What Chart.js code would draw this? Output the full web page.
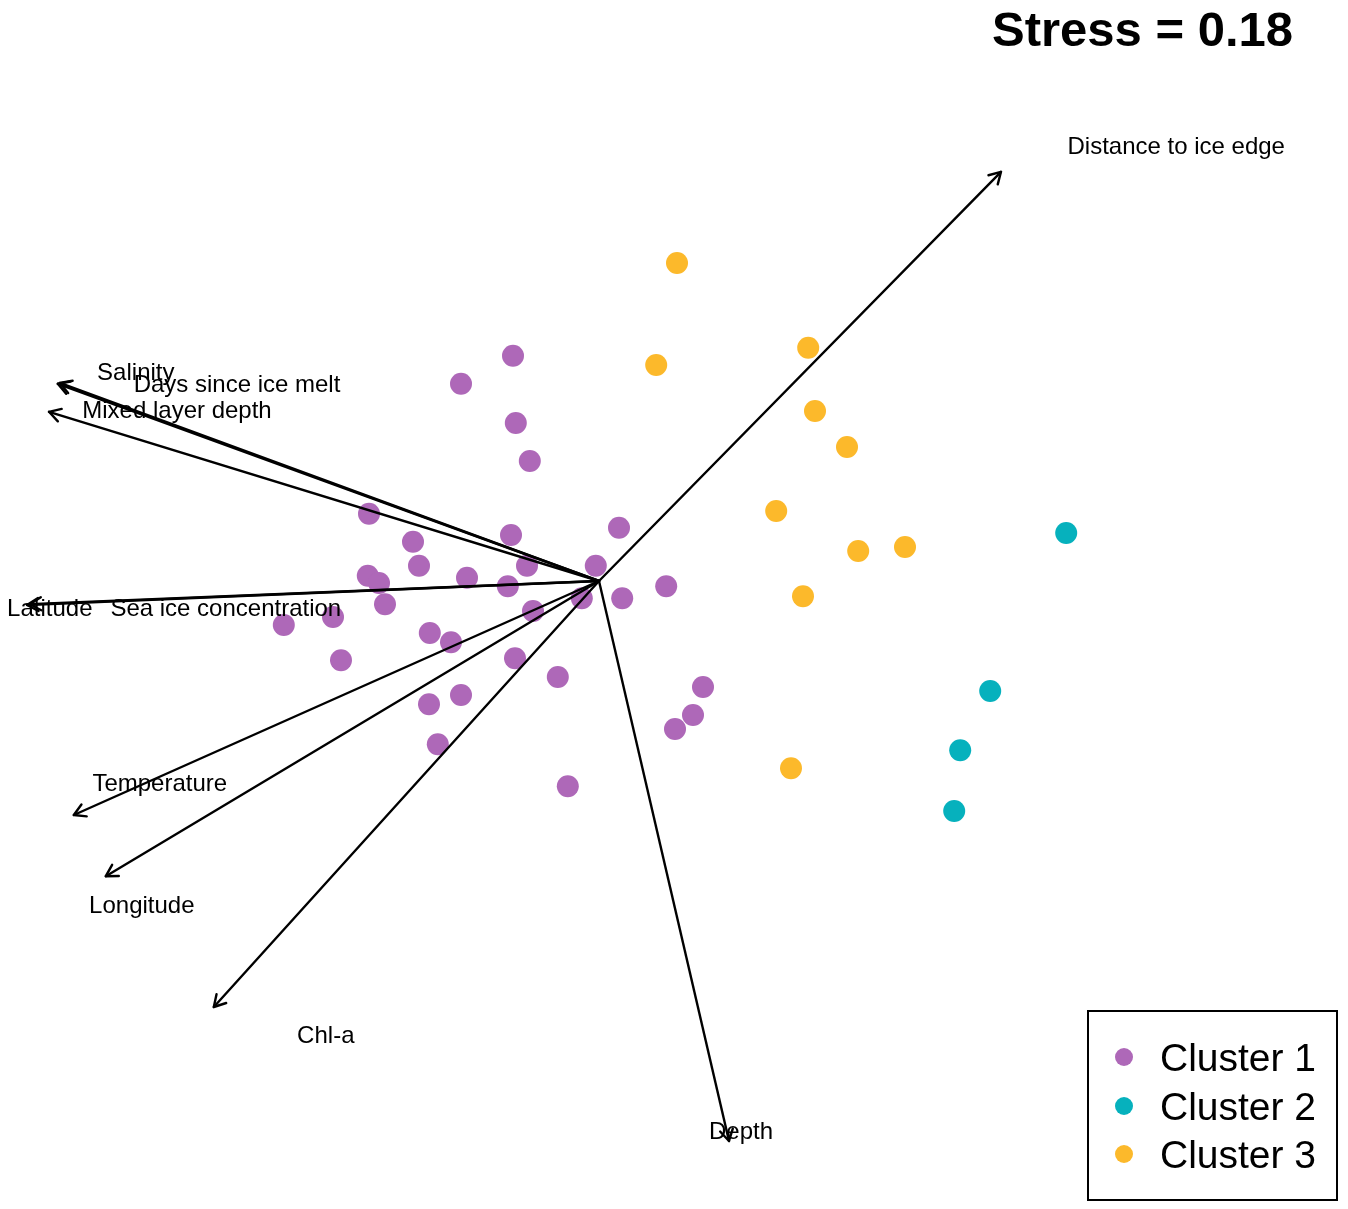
<!DOCTYPE html>
<html><head><meta charset="utf-8">
<script src="https://cdn.jsdelivr.net/npm/chart.js@4.4.1/dist/chart.umd.min.js"></script>
<style>html,body{margin:0;padding:0;background:#fff}#wrap{width:1348px;height:1209px;position:relative}</style>
</head><body><div id="wrap"><canvas id="c"></canvas></div>
<script>
// NMDS site scores
const cluster1X = [-0.215,-0.345,-0.208,-0.173,-0.575,-0.465,-0.220,0.050,-0.450,-0.330,-0.180,-0.008,-0.578,-0.550,-0.535,-0.228,-0.043,0.058,0.168,-0.165,-0.665,-0.788,-0.423,-0.370,-0.645,-0.210,-0.103,-0.345,-0.425,0.260,0.235,0.190,-0.403,-0.078];
const cluster1Y = [0.563,0.493,0.395,0.300,0.168,0.098,0.115,0.133,0.038,0.008,0.038,0.038,0.013,-0.005,-0.058,-0.013,-0.043,-0.043,-0.013,-0.075,-0.090,-0.110,-0.130,-0.153,-0.198,-0.193,-0.240,-0.285,-0.308,-0.265,-0.335,-0.370,-0.408,-0.513];
const cluster2X = [1.168,0.978,0.903,0.888];
const cluster2Y = [0.120,-0.275,-0.423,-0.575];
const cluster3X = [0.195,0.143,0.523,0.540,0.620,0.443,0.648,0.765,0.510,0.480];
const cluster3Y = [0.795,0.540,0.583,0.425,0.335,0.175,0.075,0.085,-0.038,-0.468];
// Environmental vectors (envfit arrows)
const vectorNames = ["Distance to ice edge","Salinity","Days since ice melt","Mixed layer depth","Latitude","Sea ice concentration","Temperature","Longitude","Chl-a","Depth"];
const vectorX = [1.005,-1.348,-1.353,-1.375,-1.430,-1.423,-1.313,-1.233,-0.963,0.325];
const vectorY = [1.023,0.495,0.493,0.423,-0.060,-0.058,-0.585,-0.738,-1.065,-1.400];
const labelX = [1.443,-1.158,-0.905,-1.055,-1.373,-0.933,-1.098,-1.143,-0.683,0.355];
const labelY = [1.088,0.523,0.495,0.428,-0.065,-0.065,-0.503,-0.808,-1.133,-1.373];
const clusterNames = ["Cluster 1","Cluster 2","Cluster 3"];
const stressValue = 0.18;

const colors = ["#AE68B8","#06B1BD","#FCB92B"];
const FONT = '"Liberation Sans", Arial, Helvetica, sans-serif';

const toPts = (xs, ys) => xs.map((x, i) => ({x: x, y: ys[i]}));
const datasets = [];
vectorNames.forEach((n, i) => {
  datasets.push({type:'line', label:n, data:[{x:0,y:0},{x:vectorX[i],y:vectorY[i]}],
    borderColor:'#000', borderWidth:2.4, pointRadius:0, fill:false, tension:0,
    borderCapStyle:'round', order:0});
});
[[cluster1X,cluster1Y],[cluster2X,cluster2Y],[cluster3X,cluster3Y]].forEach((d, k) => {
  datasets.push({type:'scatter', label:clusterNames[k], data:toPts(d[0], d[1]),
    backgroundColor:colors[k], borderColor:colors[k], borderWidth:0, pointRadius:11, order:1});
});

const overlay = {
  id:'overlay',
  afterDatasetsDraw(chart) {
    const ctx = chart.ctx, xs = chart.scales.x, ys = chart.scales.y;
    ctx.save();
    const ox = xs.getPixelForValue(0), oy = ys.getPixelForValue(0);
    ctx.strokeStyle = '#000'; ctx.lineWidth = 2.4; ctx.lineCap = 'round'; ctx.lineJoin = 'round';
    vectorNames.forEach((n, i) => {
      const tx = xs.getPixelForValue(vectorX[i]), ty = ys.getPixelForValue(vectorY[i]);
      const a = Math.atan2(ty - oy, tx - ox), L = 13, h = Math.PI / 6;
      ctx.beginPath();
      ctx.moveTo(tx - L * Math.cos(a - h), ty - L * Math.sin(a - h));
      ctx.lineTo(tx, ty);
      ctx.lineTo(tx - L * Math.cos(a + h), ty - L * Math.sin(a + h));
      ctx.stroke();
    });
    ctx.fillStyle = '#000'; ctx.font = '24px ' + FONT; ctx.textAlign = 'center'; ctx.textBaseline = 'middle';
    vectorNames.forEach((n, i) => {
      ctx.fillText(n, xs.getPixelForValue(labelX[i]), ys.getPixelForValue(labelY[i]) + 2);
    });
    ctx.restore();
  },
  afterDraw(chart) {
    const ctx = chart.ctx;
    ctx.save();
    ctx.fillStyle = '#000'; ctx.font = 'bold 49px ' + FONT; ctx.textAlign = 'right'; ctx.textBaseline = 'middle';
    ctx.fillText('Stress = ' + stressValue.toFixed(2), 1293, 32);
    ctx.strokeStyle = '#000'; ctx.lineWidth = 2;
    ctx.strokeRect(1088, 1011, 249, 189);
    ctx.font = '39px ' + FONT; ctx.textAlign = 'left';
    const rows = [1058, 1107, 1155];
    clusterNames.forEach((n, k) => {
      ctx.fillStyle = colors[k];
      ctx.beginPath(); ctx.arc(1124, rows[k] - 1, 9, 0, Math.PI * 2); ctx.fill();
      ctx.fillStyle = '#000';
      ctx.fillText(n, 1160, rows[k] + 2);
    });
    ctx.restore();
  }
};

new Chart(document.getElementById('c'), {
  type:'scatter',
  data:{datasets:datasets},
  options:{
    responsive:true, maintainAspectRatio:false, animation:false,
    layout:{padding:0, autoPadding:false},
    plugins:{legend:{display:false}, tooltip:{enabled:false}, title:{display:false}},
    scales:{
      x:{type:'linear', min:-1.4975, max:1.8725, display:false},
      y:{type:'linear', min:-1.57, max:1.4525, display:false}
    }
  },
  plugins:[overlay]
});
</script></body></html>
